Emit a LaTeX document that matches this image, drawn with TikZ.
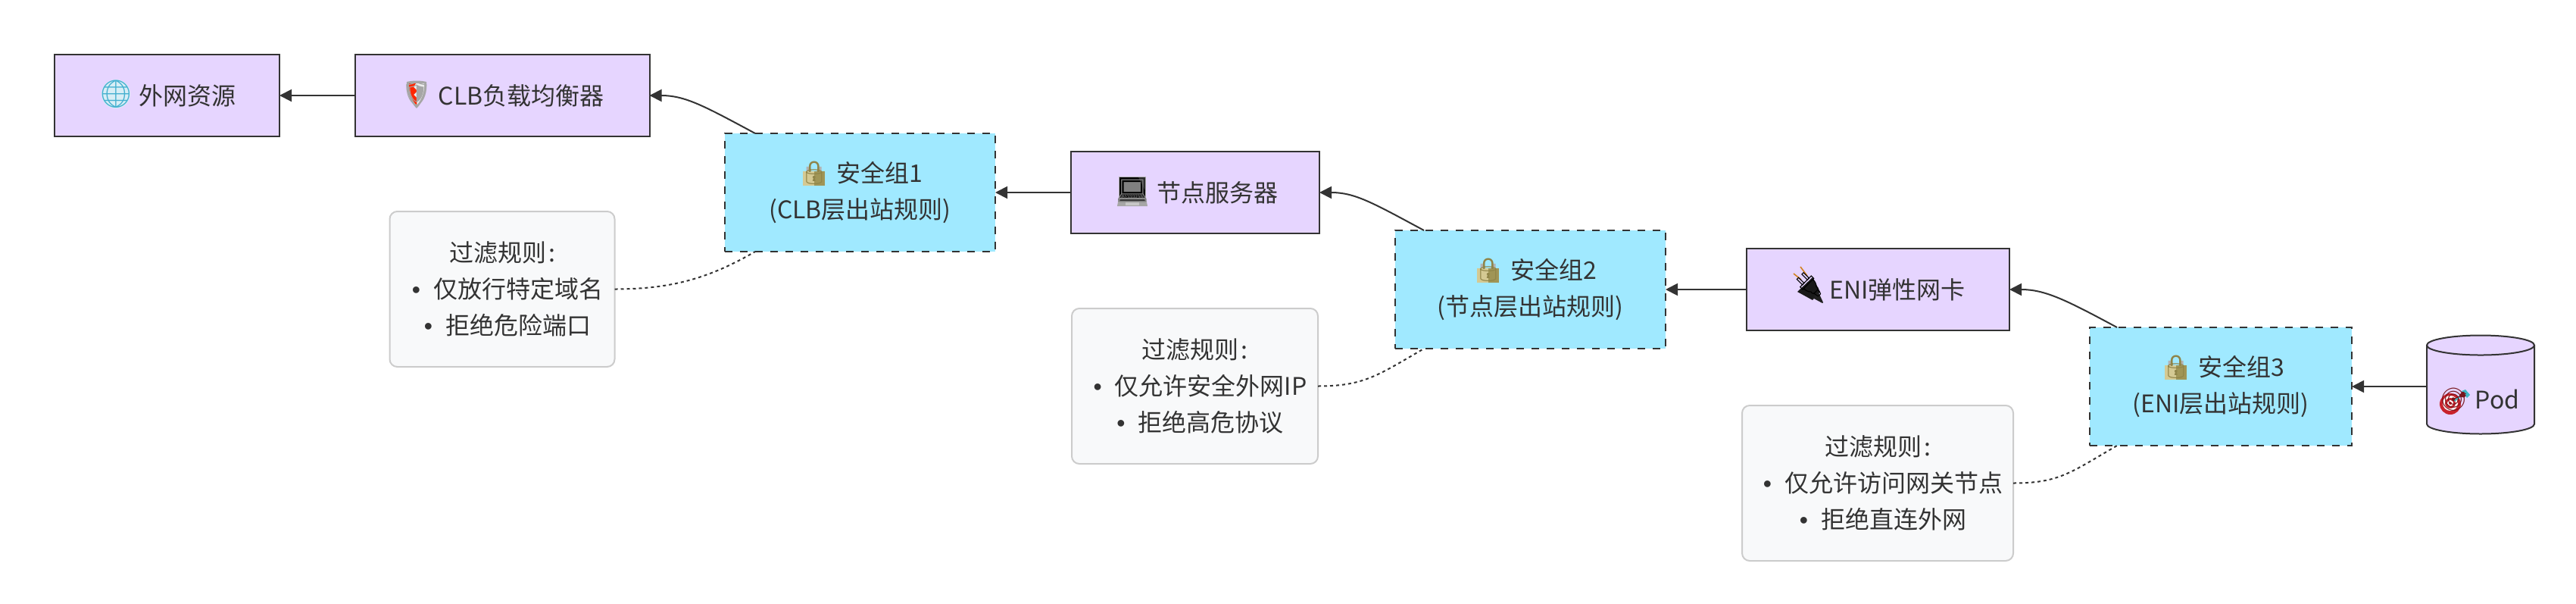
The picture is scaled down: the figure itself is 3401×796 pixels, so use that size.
\documentclass[tikz,border=0pt]{standalone}
\usepackage{fontspec}
\setmainfont{Noto Sans CJK SC}
\newfontfamily\emofont{Noto Emoji}
\newfontfamily\bulfont{Liberation Sans}
\usetikzlibrary{arrows.meta,shapes.geometric}
\definecolor{ink}{HTML}{333333}
\definecolor{violetfill}{HTML}{E6D5FF}
\definecolor{skyfill}{HTML}{A0E9FF}
\definecolor{notefill}{HTML}{F8F9FA}
\definecolor{noteline}{HTML}{CCCCCC}
\definecolor{lockgold}{HTML}{C9BC78}
\definecolor{lockdark}{HTML}{8F8448}
\definecolor{globeblue}{HTML}{45B0D0}
\definecolor{globefill}{HTML}{D8EEF6}
\definecolor{targetred}{HTML}{C8232C}
\definecolor{dartteal}{HTML}{3FB8C4}
\newcommand{\bul}{\hspace*{14pt}{\bulfont •}\hspace{17pt}}
\tikzset{
  x=1pt,y=-1pt,
  txt/.style={font=\fontsize{32}{48}\selectfont,text=ink,align=center,inner sep=0pt,outer sep=0pt},
  boxa/.style={txt,rectangle,draw=ink,fill=violetfill,line width=2pt},
  boxb/.style={txt,rectangle,draw=ink,fill=skyfill,line width=2pt,dash pattern=on 10pt off 10pt},
  notebox/.style={txt,rectangle,rounded corners=10pt,draw=noteline,fill=notefill,line width=2pt},
  podbox/.style={txt,cylinder,shape border rotate=90,aspect=0.2535,draw=ink,fill=violetfill,line width=2pt},
  emo/.style={font=\fontsize{30}{30}\emofont,inner sep=0pt,outer sep=0pt},
  link/.style={draw=ink,line width=2pt,-{Triangle[length=16pt,width=16pt]}},
  dotlink/.style={draw=ink,line width=2pt,dash pattern=on 4pt off 4pt},
}
\newcommand{\lockicon}[2]{% x(body left) y(shackle top)
  \draw[line width=3pt,draw=gray!60!white] (#1+6,#2+18) -- (#1+6,#2+10) arc[start angle=180,end angle=0,x radius=8.5,y radius=8.5] -- (#1+23,#2+18);
  \fill[lockgold] (#1,#2+16) rectangle (#1+29,#2+35);
  \fill[lockdark!70!lockgold] (#1+15,#2+16) rectangle (#1+29,#2+35);
  \fill[lockgold!80!white] (#1,#2+16) rectangle (#1+15,#2+35);
}
\begin{document}
\begin{tikzpicture}
\useasboundingbox (0,0) rectangle (3401,796);
\fill[white] (0,0) rectangle (3401,796);

\node[boxa,minimum width=297pt,minimum height=108pt] (ext) at (220.5,126) {\hspace{53pt}外网资源};
\node[boxa,minimum width=389pt,minimum height=108pt] (clb) at (663,126) {\hspace{50pt}CLB负载均衡器};
\node[boxb,minimum width=357pt,minimum height=156pt] (sga) at (1135.5,254) {\hspace{51pt}安全组1\\(CLB层出站规则)};
\node[boxa,minimum width=328pt,minimum height=108pt] (srv) at (1578,254) {\hspace{58pt}节点服务器};
\node[boxb,minimum width=357pt,minimum height=156pt] (sgb) at (2020.5,382) {\hspace{61pt}安全组2\\(节点层出站规则)};
\node[boxa,minimum width=347pt,minimum height=108pt] (eni) at (2479.5,382) {\hspace{51pt}ENI弹性网卡};
\node[boxb,minimum width=346pt,minimum height=156pt] (sgc) at (2932,510) {\hspace{54pt}安全组3\\(ENI层出站规则)};
\node[podbox,minimum width=142pt,minimum height=130pt] (pod) at (3275,514.5) {\raisebox{-24.5pt}[0pt][0pt]{\hspace{44pt}Pod}};

\node[notebox,minimum width=297pt,minimum height=205pt] (na) at (663,381.5) {过滤规则\hspace{3pt}:\\\bul 仅放行特定域名\\\bul 拒绝危险端口};
\node[notebox,minimum width=325pt,minimum height=205pt] (nb) at (1577.5,509.5) {过滤规则\hspace{3pt}:\\\bul 仅允许安全外网IP\\\bul 拒绝高危协议};
\node[notebox,minimum width=358pt,minimum height=205pt] (nc) at (2479,637.5) {过滤规则\hspace{3pt}:\\\bul 仅允许访问网关节点\\\bul 拒绝直连外网};

% connectors
\path[link] (clb.west) -- (ext.east);
\path[link] ([xshift=40pt]sga.north west) .. controls +(-67,-36) and +(47,0) .. (clb.east);
\path[link] (srv.west) -- (sga.east);
\path[link] ([xshift=38pt]sgb.north west) .. controls +(-67,-36) and +(47,0) .. (srv.east);
\path[link] (eni.west) -- (sgb.east);
\path[link] ([xshift=36pt]sgc.north west) .. controls +(-67,-36) and +(47,0) .. (eni.east);
\path[link] ([yshift=4.5pt]pod.west) -- (sgc.east);
\path[dotlink] (na.east) .. controls +(73,0) and +(-62,36) .. ([xshift=40pt]sga.south west);
\path[dotlink] (nb.east) .. controls +(60,0) and +(-62,36) .. ([xshift=38pt]sgb.south west);
\path[dotlink] (nc.east) .. controls +(60,0) and +(-62,36) .. ([xshift=36pt]sgc.south west);

% globe
\fill[globefill] (153,124) circle[radius=19];
\node[emo,text=globeblue,font=\fontsize{36}{36}\emofont] (eglobe) at (153,124) {🌐};

% shield
\fill[gray!70] (537,108) .. controls (545,106) and (555,106) .. (563,108) .. controls (564,122) and (558,135) .. (550,143) .. controls (542,135) and (536,122) .. (537,108) -- cycle;
\fill[white!85!gray] (540,110) -- (560,110) .. controls (561,122) and (556,132) .. (550,139) .. controls (544,132) and (539,122) .. (540,110) -- cycle;
\fill[red!70!orange] (540,110) -- (549,110) -- (546,115) -- (551,120) -- (546,125) -- (551,130) -- (550,139) .. controls (544,132) and (539,122) .. (540,110) -- cycle;
\node[emo,text=gray!70,font=\fontsize{32}{32}\emofont] (eshield) at (550,124) {🛡};

% locks
\lockicon{1060}{210}
\node[emo,text=lockdark] (elocka) at (1075,228) {🔒};
\lockicon{1950}{338}
\node[emo,text=lockdark] (elockb) at (1965,356) {🔒};
\lockicon{2858}{466}
\node[emo,text=lockdark] (elockc) at (2873,484) {🔒};

% laptop
\fill[gray!60] (1477,233) rectangle (1513,262);
\fill[black] (1478,234) -- (1512,234) -- (1512,261) -- (1478,261) -- cycle;
\fill[gray!35!black] (1503,234) -- (1512,234) -- (1512,252) -- cycle;
\fill[gray!70] (1477,261) -- (1513,261) -- (1515,272) -- (1475,272) -- cycle;
\fill[gray!25!black] (1479,262) -- (1511,262) -- (1512,266) -- (1478,266) -- cycle;
\fill[gray!45] (1486,267) rectangle (1504,271);
\node[emo,text=gray,font=\fontsize{34}{34}\emofont] (elaptop) at (1495,252) {💻};

% plug
\draw[line width=1.6pt,draw=lockdark!40!orange] (2378,369) -- (2368,361);
\draw[line width=1.6pt,draw=lockdark!40!orange] (2386,364) -- (2377,352);
\fill[gray!20!black] (2373,385) -- (2393,366) -- (2403,385) -- (2393,396) -- cycle;
\fill[gray!25!black] (2393,393) -- (2401,386) -- (2407,399) -- (2406,400) -- cycle;
\node[emo,text=black,font=\fontsize{32}{32}\emofont] (eplug) at (2388,376) {🔌};

% target
\fill[targetred] (3235,533) circle[radius=14];
\fill[white] (3235,532) circle[radius=10];
\fill[targetred] (3235,532) circle[radius=7];
\fill[white] (3235,532) circle[radius=4];
\fill[targetred] (3235,532) circle[radius=2];
\draw[line width=2.5pt,draw=dartteal] (3240,529) -- (3252,520);
\fill[dartteal] (3250,516) -- (3255,514) -- (3261,521) -- (3257,525) -- cycle;
\node[emo,text=targetred!60!black] (etarget) at (3240,527) {🎯};
\end{tikzpicture}
\end{document}
